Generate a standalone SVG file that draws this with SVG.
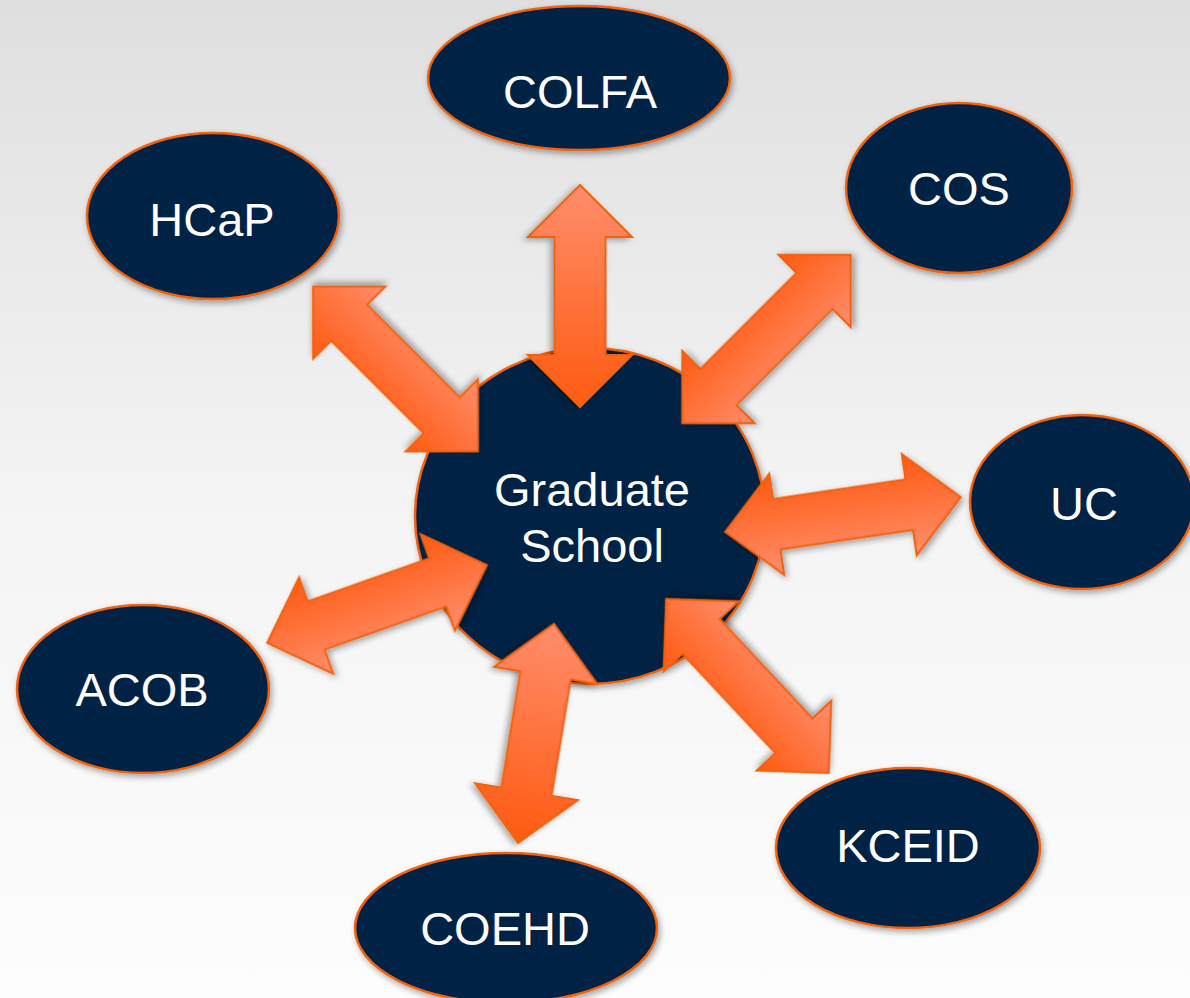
<svg xmlns="http://www.w3.org/2000/svg" width="1190" height="998" viewBox="0 0 1190 998">
<defs>
<linearGradient id="bg" x1="0" y1="0" x2="0" y2="1">
<stop offset="0" stop-color="#dfdfdf"/>
<stop offset="0.5" stop-color="#f4f4f4"/>
<stop offset="1" stop-color="#fdfdfd"/>
</linearGradient>
<linearGradient id="gAcross" x1="0" y1="0" x2="0" y2="1">
<stop offset="0" stop-color="#ff5a10"/>
<stop offset="1" stop-color="#ff8d6c"/>
</linearGradient>
<linearGradient id="gAlong" x1="0" y1="0" x2="1" y2="0">
<stop offset="0" stop-color="#ff8d6c"/>
<stop offset="1" stop-color="#ff5a10"/>
</linearGradient>
<filter id="sh" x="-20%" y="-20%" width="140%" height="140%">
<feDropShadow dx="2" dy="3" stdDeviation="3" flood-color="#000" flood-opacity="0.35"/>
</filter>
</defs>
<style>
.node{fill:#002145;stroke:#f0620f;stroke-width:2.5;filter:url(#sh)}
.lbl{fill:#ffffff;font-family:"Liberation Sans",Arial,sans-serif;font-size:47px;text-anchor:middle}
.arr{stroke:#f0620f;stroke-width:2;stroke-linejoin:miter;filter:url(#sh)}
.across{fill:url(#gAcross)}
.along{fill:url(#gAlong)}
</style>
<rect x="0" y="0" width="1190" height="998" fill="url(#bg)"/>

<g id="node-colfa"><ellipse class="node" cx="579" cy="78" rx="151" ry="72"/><text class="lbl" x="580" y="108">COLFA</text></g>
<g id="node-hcap"><ellipse class="node" cx="213" cy="216" rx="126" ry="83"/><text class="lbl" x="212" y="236">HCaP</text></g>
<g id="node-cos"><ellipse class="node" cx="959" cy="188" rx="113" ry="85"/><text class="lbl" x="959" y="205">COS</text></g>
<g id="node-uc"><ellipse class="node" cx="1082" cy="502" rx="112" ry="87"/><text class="lbl" x="1084" y="520">UC</text></g>
<g id="node-acob"><ellipse class="node" cx="143" cy="689" rx="126" ry="84"/><text class="lbl" x="142" y="706">ACOB</text></g>
<g id="node-coehd"><ellipse class="node" cx="506" cy="928" rx="151" ry="75"/><text class="lbl" x="505" y="945">COEHD</text></g>
<g id="node-kceid"><ellipse class="node" cx="908" cy="848" rx="132" ry="80"/><text class="lbl" x="908" y="862">KCEID</text></g>
<g id="node-grad"><ellipse class="node" cx="590" cy="516" rx="175" ry="168"/><text class="lbl" x="592" y="506">Graduate</text><text class="lbl" x="592" y="562">School</text></g>

<g id="connectors">
<polygon class="arr along" transform="translate(580,296) rotate(90)" points="-111,0 -59,-52 -59,-25.5 59,-25.5 59,-52 111,0 59,52 59,25.5 -59,25.5 -59,52"/>
<polygon class="arr along" transform="translate(536,733.5) rotate(99.3)" points="-111,0 -59,-52 -59,-25.5 59,-25.5 59,-52 111,0 59,52 59,25.5 -59,25.5 -59,52"/>
<polygon class="arr across" transform="translate(766.5,339) rotate(-45)" points="-119,0 -68,-51 -68,-25.5 68,-25.5 68,-51 119,0 68,51 68,25.5 -68,25.5 -68,51"/>
<polygon class="arr across" transform="translate(395.5,369) rotate(225)" points="-116.5,0 -65.5,-51 -65.5,-25.5 65.5,-25.5 65.5,-51 116.5,0 65.5,51 65.5,25.5 -65.5,25.5 -65.5,51"/>
<polygon class="arr across" transform="translate(843,514.5) rotate(-8.4)" points="-119,0 -67,-51 -67,-25.5 67,-25.5 67,-51 119,0 67,51 67,25.5 -67,25.5 -67,51"/>
<polygon class="arr across" transform="translate(377,604) rotate(-19.5)" points="-116.5,0 -64.5,-51 -64.5,-25.5 64.5,-25.5 64.5,-51 116.5,0 64.5,51 64.5,25.5 -64.5,25.5 -64.5,51"/>
<polygon class="arr across" transform="translate(747.5,686) rotate(226.9)" points="-119,0 -68,-51 -68,-25.5 68,-25.5 68,-51 119,0 68,51 68,25.5 -68,25.5 -68,51"/>
</g>
</svg>
